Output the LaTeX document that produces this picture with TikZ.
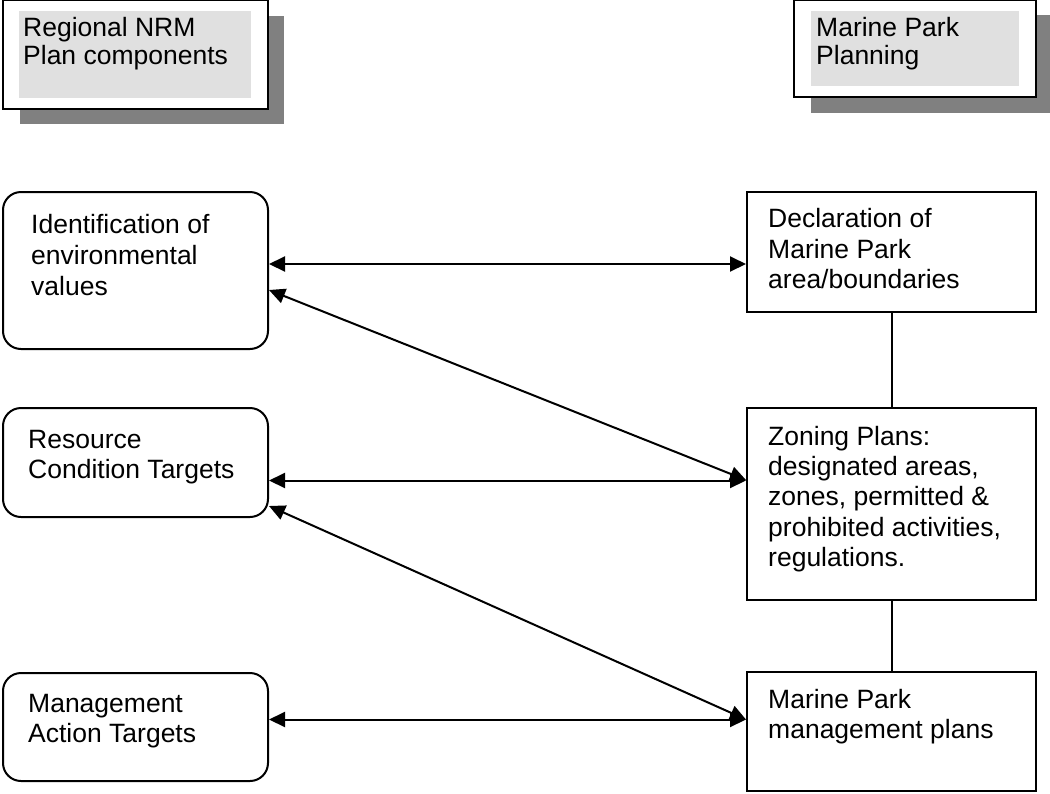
\documentclass[tikz,border=0pt]{standalone}
\usepackage{fontspec}
\setmainfont{Liberation Sans}
\usetikzlibrary{arrows.meta}
\definecolor{shadowgray}{RGB}{128,128,128}
\definecolor{innergray}{RGB}{224,224,224}
\begin{document}
\begin{tikzpicture}[x=1pt,y=-1pt,
  txt/.style={anchor=base west,inner sep=0pt,font=\fontsize{26.5}{30.5}\selectfont},
  rbox/.style={draw,line width=2pt,rounded corners=18pt,inner sep=0pt,fill=white},
  sbox/.style={draw,line width=2pt,inner sep=0pt,fill=white},
  shadowbox/.style={fill=shadowgray,inner sep=0pt},
  headbox/.style={draw,line width=2.2pt,fill=white,inner sep=0pt},
  innerbox/.style={fill=innergray,inner sep=0pt},
  arr/.style={line width=2pt,{Triangle[length=16pt,width=15pt]}-{Triangle[length=16pt,width=15pt]}},
  link/.style={line width=2pt}]
\useasboundingbox (0,0) rectangle (1050,793);
% header left
\node[shadowbox,minimum width=264pt,minimum height=108pt] (hLs) at (152,70) {};
\node[headbox,minimum width=265pt,minimum height=109pt] (hL) at (135.5,54.5) {};
\node[innerbox,minimum width=232pt,minimum height=87pt] (hLi) at (135,54.5) {};
\node[txt] (hLa) at (23,36) {Regional NRM};
\node[txt] (hLb) at (23,64) {Plan components};
% header right
\node[shadowbox,minimum width=239pt,minimum height=98pt] (hRs) at (930.5,64) {};
\node[headbox,minimum width=242pt,minimum height=97pt] (hR) at (915,48.5) {};
\node[innerbox,minimum width=208pt,minimum height=75pt] (hRi) at (915,48.5) {};
\node[txt] (hRa) at (816,36) {Marine Park};
\node[txt] (hRb) at (816,64) {Planning};
% left boxes
\node[rbox,minimum width=265pt,minimum height=157pt] (L1) at (135.5,270.5) {};
\node[txt] (L1a) at (31,233) {Identification of};
\node[txt] (L1b) at (31,264) {environmental};
\node[txt] (L1c) at (31,295) {values};
\node[rbox,minimum width=265pt,minimum height=109pt] (L2) at (135.5,462.5) {};
\node[txt] (L2a) at (28,448) {Resource};
\node[txt] (L2b) at (28,478) {Condition Targets};
\node[rbox,minimum width=265pt,minimum height=108pt] (L3) at (135.5,727) {};
\node[txt] (L3a) at (28,712) {Management};
\node[txt] (L3b) at (28,742) {Action Targets};
% right boxes
\node[sbox,minimum width=289pt,minimum height=120pt] (R1) at (891.5,252) {};
\node[txt] (R1a) at (768,227) {Declaration of};
\node[txt] (R1b) at (768,258) {Marine Park};
\node[txt] (R1c) at (768,288) {area/boundaries};
\node[sbox,minimum width=289pt,minimum height=192pt] (R2) at (891.5,504) {};
\node[txt] (R2a) at (768,445) {Zoning Plans:};
\node[txt] (R2b) at (768,475) {designated areas,};
\node[txt] (R2c) at (768,505) {zones, permitted \&};
\node[txt] (R2d) at (768,536) {prohibited activities,};
\node[txt] (R2e) at (768,566) {regulations.};
\node[sbox,minimum width=289pt,minimum height=119pt] (R3) at (891.5,731.5) {};
\node[txt] (R3a) at (768,708) {Marine Park};
\node[txt] (R3b) at (768,738) {management plans};
% links
\draw[link] (R1.south) -- (R2.north);
\draw[link] (R2.south) -- (R3.north);
% arrows
\draw[arr] ([yshift=6.5pt]L1.east) -- ([yshift=-12pt]R1.west);
\draw[arr] ([yshift=-19.5pt]L1.east) -- ([yshift=24pt]R2.west);
\draw[arr] ([yshift=-18pt]L2.east) -- ([yshift=23.5pt]R2.west);
\draw[arr] ([yshift=-43.5pt]L2.east) -- ([yshift=12pt]R3.west);
\draw[arr] ([yshift=7.5pt]L3.east) -- ([yshift=12pt]R3.west);
\end{tikzpicture}
\end{document}
